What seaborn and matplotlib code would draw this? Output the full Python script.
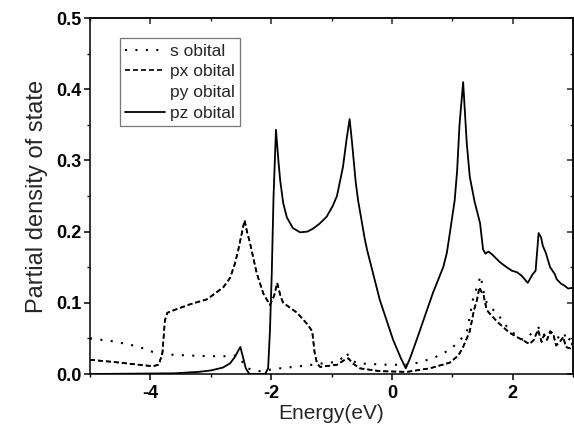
import matplotlib
matplotlib.use("Agg")
import matplotlib.pyplot as plt
from matplotlib.lines import Line2D
from matplotlib.ticker import MultipleLocator
import seaborn as sns
import pandas as pd

# Partial density of states, energies in eV
s_energy = [-5.0, -4.62, -4.22, -3.96, -3.80, -3.62, -3.06, -2.68, -2.57, -2.50, -2.40, -2.2,
            -1.85, -1.41, -1.14, -0.91, -0.80, -0.75, -0.70, -0.58, -0.08, 0.30, 0.68, 0.96,
            1.10, 1.24, 1.34, 1.42, 1.47, 1.52, 1.57, 1.65, 1.74, 1.85, 1.95, 2.05, 2.17, 2.25,
            2.35, 2.45, 2.52, 2.58, 2.62, 2.70, 2.78, 2.85, 2.90, 2.95, 3.0]
s_dos = [0.050, 0.046, 0.039, 0.031, 0.028, 0.027, 0.025, 0.025, 0.026, 0.020, 0.008, 0.004,
         0.008, 0.012, 0.015, 0.017, 0.024, 0.030, 0.022, 0.015, 0.013, 0.013, 0.022, 0.034,
         0.045, 0.058, 0.104, 0.125, 0.138, 0.115, 0.100, 0.092, 0.086, 0.072, 0.062, 0.055,
         0.048, 0.052, 0.060, 0.066, 0.055, 0.062, 0.059, 0.050, 0.052, 0.058, 0.045, 0.050,
         0.052]

px_energy = [-5.0, -4.62, -4.3, -3.96, -3.86, -3.80, -3.76, -3.72, -3.60, -3.34, -3.06, -2.90,
             -2.79, -2.68, -2.60, -2.55, -2.48, -2.44, -2.40, -2.35, -2.24, -2.13, -2.02, -1.95,
             -1.90, -1.84, -1.80, -1.57, -1.39, -1.32, -1.28, -1.24, -1.19, -0.91, -0.78, -0.72,
             -0.65, -0.53, -0.2, 0.25, 0.63, 0.96, 1.10, 1.18, 1.29, 1.36, 1.41, 1.45, 1.49, 1.52,
             1.57, 1.65, 1.75, 1.84, 1.95, 2.07, 2.18, 2.28, 2.35, 2.42, 2.48, 2.52, 2.57, 2.62,
             2.67, 2.72, 2.78, 2.84, 2.88, 2.95, 3.0]
px_dos = [0.020, 0.017, 0.014, 0.011, 0.013, 0.030, 0.075, 0.086, 0.090, 0.098, 0.105, 0.115,
          0.122, 0.135, 0.155, 0.172, 0.200, 0.216, 0.200, 0.184, 0.142, 0.113, 0.097, 0.110,
          0.128, 0.108, 0.100, 0.086, 0.069, 0.060, 0.030, 0.015, 0.010, 0.013, 0.020, 0.022,
          0.015, 0.008, 0.004, 0.003, 0.008, 0.016, 0.026, 0.038, 0.060, 0.090, 0.104, 0.122,
          0.114, 0.110, 0.090, 0.082, 0.073, 0.066, 0.058, 0.052, 0.047, 0.042, 0.048, 0.062,
          0.045, 0.055, 0.048, 0.060, 0.057, 0.040, 0.045, 0.052, 0.038, 0.036, 0.045]

# px and py are degenerate
py_energy = list(px_energy)
py_dos = list(px_dos)

pz_energy = [-5.0, -3.6, -3.2, -3.0, -2.8, -2.68, -2.6, -2.55, -2.51, -2.47, -2.42, -2.36, -2.1,
             -2.05, -2.02, -1.99, -1.96, -1.92, -1.88, -1.85, -1.80, -1.74, -1.64, -1.52, -1.40,
             -1.31, -1.20, -1.08, -0.98, -0.91, -0.81, -0.75, -0.70, -0.66, -0.60, -0.56, -0.45,
             -0.41, -0.20, 0.02, 0.15, 0.23, 0.30, 0.41, 0.68, 0.85, 0.91, 0.96, 1.04, 1.08, 1.12,
             1.18, 1.24, 1.29, 1.37, 1.46, 1.51, 1.55, 1.60, 1.66, 1.79, 1.90, 1.99, 2.07, 2.15,
             2.25, 2.33, 2.38, 2.43, 2.47, 2.50, 2.55, 2.62, 2.70, 2.73, 2.80, 2.86, 2.92, 2.98,
             3.0]
pz_dos = [0.0, 0.001, 0.003, 0.005, 0.009, 0.015, 0.024, 0.032, 0.038, 0.025, 0.008, 0.0, 0.0,
          0.008, 0.060, 0.140, 0.250, 0.343, 0.300, 0.272, 0.240, 0.220, 0.205, 0.199, 0.200,
          0.204, 0.211, 0.221, 0.236, 0.250, 0.291, 0.330, 0.358, 0.325, 0.270, 0.244, 0.190,
          0.174, 0.104, 0.048, 0.022, 0.008, 0.022, 0.048, 0.114, 0.150, 0.170, 0.198, 0.244,
          0.285, 0.350, 0.410, 0.324, 0.277, 0.242, 0.212, 0.175, 0.169, 0.172, 0.168, 0.157,
          0.150, 0.145, 0.143, 0.138, 0.128, 0.140, 0.145, 0.198, 0.192, 0.180, 0.170, 0.150,
          0.140, 0.133, 0.127, 0.124, 0.120, 0.121, 0.120]

legend_labels = ["s obital", "px obital", "py obital", "pz obital"]
x_ticks = [-4, -2, 0, 2]
y_ticks = [0.0, 0.1, 0.2, 0.3, 0.4, 0.5]

sns.set_style("ticks")
plt.rcParams["font.family"] = ["Liberation Sans", "DejaVu Sans"]

fig = plt.figure(figsize=(5.74, 4.30), dpi=100)
ax = fig.add_axes([0.1568, 0.1302, 0.8415, 0.8279])

dotted = (0, (1, 4))
dashed = (0, (3, 1.8))

series = [
    (s_energy, s_dos, dotted, 1.5),
    (px_energy, px_dos, dashed, 1.2),
    (py_energy, py_dos, dashed, 1.2),
    (pz_energy, pz_dos, "-", 1.3),
]
for energy, dos, style, width in series:
    df = pd.DataFrame({"E": energy, "DOS": dos})
    sns.lineplot(data=df, x="E", y="DOS", ax=ax, color="black", lw=width,
                 linestyle=style, sort=False, estimator=None)

ax.set_xlim(-5, 3)
ax.set_ylim(0, 0.5)
ax.set_xticks(x_ticks)
ax.set_yticks(y_ticks)
ax.set_xticklabels([f"{t:d}" for t in x_ticks])
ax.set_yticklabels([f"{t:.1f}" for t in y_ticks])
ax.xaxis.set_minor_locator(MultipleLocator(1))
ax.yaxis.set_minor_locator(MultipleLocator(0.05))

for side in ["left", "bottom", "top", "right"]:
    ax.spines[side].set_visible(True)
    ax.spines[side].set_linewidth(1.1)
    ax.spines[side].set_color("black")

ax.tick_params(which="major", direction="out", length=4.5, width=1.1, color="black",
               labelsize=13, labelcolor="black")
ax.tick_params(which="minor", direction="out", length=2.5, width=1.0, color="black")
ax.tick_params(axis="y", pad=1.5)
ax.tick_params(axis="x", pad=3.5)
for lab in ax.get_xticklabels() + ax.get_yticklabels():
    lab.set_fontweight("bold")

# Mirrored axes with inward ticks
top = ax.secondary_xaxis("top")
top.set_xticks(x_ticks)
top.xaxis.set_minor_locator(MultipleLocator(1))
top.tick_params(which="major", direction="in", length=4.5, width=1.1, labeltop=False)
top.tick_params(which="minor", direction="in", length=2.5, width=1.0)
top.spines["top"].set_linewidth(1.1)
right = ax.secondary_yaxis("right")
right.set_yticks(y_ticks)
right.yaxis.set_minor_locator(MultipleLocator(0.05))
right.tick_params(which="major", direction="in", length=4.5, width=1.1, labelright=False)
right.tick_params(which="minor", direction="in", length=2.5, width=1.0)
right.spines["right"].set_linewidth(1.1)

ax.set_xlabel("Energy(eV)", fontsize=15, labelpad=1)
ax.set_ylabel("Partial density of state", fontsize=17, labelpad=6)

handles = [
    Line2D([], [], color="black", lw=1.5, linestyle=dotted),
    Line2D([], [], color="black", lw=1.2, linestyle=dashed),
    Line2D([], [], color="none", lw=1.2),
    Line2D([], [], color="black", lw=1.3, linestyle="-"),
]
leg = ax.legend(handles, legend_labels, loc="upper left", bbox_to_anchor=(0.062, 0.943),
                fontsize=12.5, frameon=True, fancybox=False, handlelength=2.3,
                handletextpad=0.3, labelspacing=0.32, borderpad=0.3, borderaxespad=0)
leg.get_frame().set_edgecolor("#555555")
leg.get_frame().set_linewidth(0.9)

fig.savefig("out.png", dpi=100)
